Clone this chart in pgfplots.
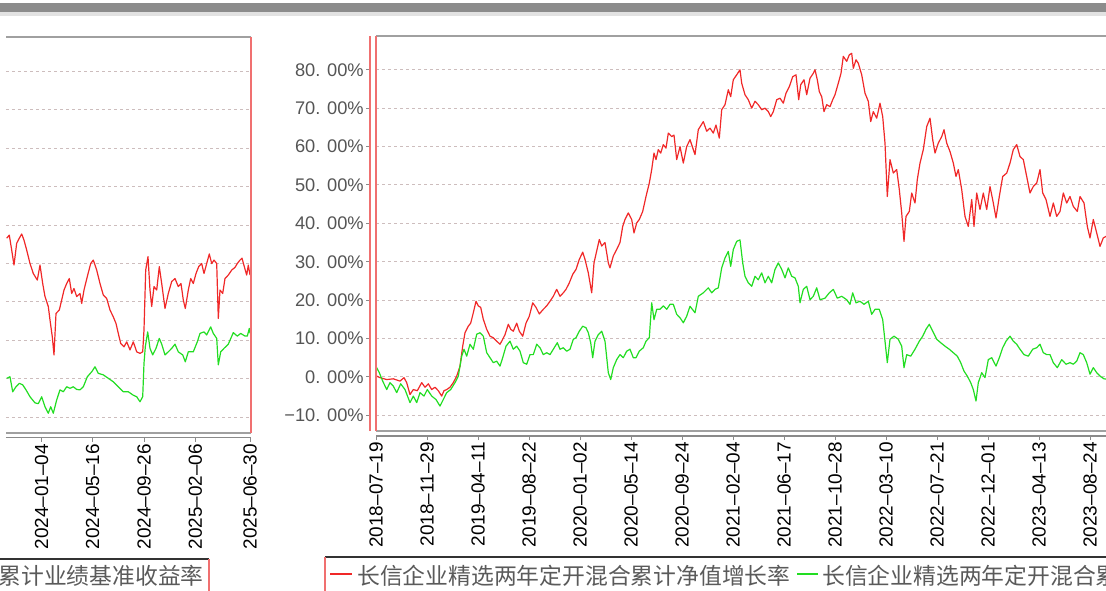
\documentclass[border=0pt]{standalone}
\usepackage{pgfplots}
\pgfplotsset{compat=1.18}
\usepackage{fontspec}
\setmainfont{Liberation Sans}
\newfontfamily\cjk{Noto Sans CJK SC}
\definecolor{lred}{HTML}{F02828}
\definecolor{lgreen}{HTML}{22DD22}
\definecolor{gridc}{HTML}{CDBDBD}
\definecolor{framec}{HTML}{A0A0A0}
\definecolor{axc}{HTML}{8A8A8A}
\definecolor{labc}{HTML}{555555}
\definecolor{legc}{HTML}{5A5A5A}
\definecolor{edgec}{HTML}{F07070}
\definecolor{bardark}{HTML}{8C8C8C}
\definecolor{barlight}{HTML}{E2E2E2}
\definecolor{boxc}{HTML}{323232}

\pgfplotstableread{
x y
6.7 36.6
9.3 37.4
11.7 33.5
14 29.6
16.7 35.3
19.3 36.6
21.7 37.7
24 36.1
26.7 33.5
30 30.0
33.3 27.4
37.3 25.7
40 29.6
42.7 24.8
45 21.4
48.3 18.8
50 15.3
52.3 10.9
54 6.2
56 17.0
59.3 17.9
61.7 20.5
64 23.1
66.7 24.8
69.3 26.1
71.7 22.2
74 23.5
76.7 21.4
80 22.2
81.7 19.6
84 23.1
87.3 26.6
90.7 30.0
93.3 30.9
96.7 28.3
100 24.8
103.3 21.8
106.7 20.9
110 17.9
113.3 16.1
116 14.4
118.3 11.8
120.7 9.2
124 8.3
126.7 9.6
130 7.5
133.3 9.6
136.7 7.0
140 6.6
142.7 7.0
144 12.7
145.7 28.3
148 31.8
150 23.1
151.7 18.8
154 24.0
156.7 23.1
159.3 29.2
161.7 24.8
165 18.3
168.3 22.2
171.7 25.3
175 26.1
178.3 24.0
181 24.8
183.3 20.5
185.3 18.3
188.3 23.1
190.7 26.1
193.3 24.8
196 27.4
198.7 29.2
201.7 30.0
204 27.4
206.7 30.0
209.3 32.5
211.7 30.0
214 30.9
216.7 30.0
218.3 15.7
220 23.1
222.7 22.2
225 26.1
228.3 27.0
231.7 28.3
235 29.0
237.3 30.0
240 30.9
242 31.4
244.3 29.2
246.7 27.0
248.3 29.6
250 27.0
}\leftred

\pgfplotstableread{
x y
6.7 0.1
10 0.5
12.7 -3.4
16 -2.1
19.3 -1.2
22.7 -1.6
26 -2.9
30 -4.7
35 -6.3
38.3 -6.5
41.7 -4.7
45 -7.3
48.3 -9.0
50.7 -7.3
53.3 -9.0
56.7 -5.5
60 -2.9
63.3 -3.4
66.7 -2.1
70 -2.5
73.3 -2.1
76.7 -2.8
80 -2.9
83.3 -2.1
87.3 0.5
91.7 1.8
95 3.1
98.3 1.4
103.3 1.0
108.3 0.1
113.3 -0.8
118.3 -2.1
123.3 -3.4
128.3 -3.4
133.3 -4.3
136.7 -4.7
140 -6.0
142.7 -4.7
144 4.0
145.3 8.3
147.7 12.2
150 7.9
152.7 6.2
156 7.9
159.3 10.5
161.7 9.0
165 6.2
168.3 7.0
171.7 7.9
175 9.0
178.3 7.0
182.7 6.2
185.3 4.4
188.3 7.0
193.3 7.0
197.3 9.6
200 11.8
204 12.2
206.7 11.4
210.7 13.5
213.3 11.8
216.7 10.5
218.3 3.6
220.7 7.0
224 7.9
228.3 9.0
233.3 12.0
237.3 11.1
240.7 11.8
245 11.1
247.3 11.1
249.3 13.1
250 11.8
}\leftgreen

\pgfplotstableread{
x y
376.7 0.2
380 -0.2
386.7 -0.7
393.3 -0.5
400 -1.1
404 -0.2
406.7 -1.5
410 -4.6
413.3 -3.3
417.3 -3.6
421.7 -1.5
425 -2.7
428.3 -1.8
431.7 -3.3
435 -2.7
438.3 -3.6
441.7 -5.0
444 -3.6
446.7 -3.3
450 -2.7
453.3 -1.5
456.7 0.2
460 2.8
462.7 8.0
465 11.5
468.3 13.2
470.7 14.0
473.3 16.7
476 19.7
478.3 18.5
480.7 18.1
483.3 15.0
486.7 12.4
490 10.6
493.3 10.2
496.7 9.3
500 8.5
501.7 9.3
505 11.0
508.3 13.7
510.7 12.4
513.3 11.9
516.7 14.0
519.3 11.9
522.7 10.6
526 14.0
529.3 15.8
532.7 19.3
536 18.1
539.3 16.4
543.3 17.6
546.7 18.5
550 19.7
553.3 21.0
556.7 22.8
560 21.0
563.3 21.9
566 22.8
569.3 24.5
572.7 26.7
576 28.0
579.3 30.6
582.7 32.5
585 30.6
588.3 27.1
591.7 21.9
594 29.7
596.7 32.8
599.3 35.8
601.7 34.1
605 35.0
608.3 29.7
610 28.4
613.3 31.5
616.7 33.2
620 35.0
622.7 39.2
625 41.0
628.3 42.7
631.7 41.0
634 37.5
636.7 40.1
639.3 41.0
642.7 43.1
646 47.0
649.3 50.5
651.7 54.0
654 58.3
656 56.6
658.3 59.2
660.7 58.3
663.3 60.5
666 59.6
668.3 63.5
671.7 62.6
674 63.0
676.7 56.6
680 60.0
683.3 55.7
686.7 60.0
690 61.8
695 57.9
698.3 64.4
703.3 66.5
706.7 64.0
710 64.8
713.3 63.5
716 65.6
719.3 62.2
721.7 69.6
725 70.9
728.3 74.8
730.7 73.0
733.3 77.4
736.7 78.7
740 80.0
741.7 76.5
745 73.5
748.3 72.2
751.7 70.0
755 71.8
758.3 70.9
761.7 69.6
765 70.0
768.3 69.1
770.7 67.8
773.3 69.1
776.7 72.2
780 72.6
783.3 71.3
786 73.9
789.3 75.6
792.7 78.2
796 78.7
798.7 72.2
800.7 76.1
804 77.4
806.7 73.5
810 77.8
813.3 79.1
815 80.0
817.3 77.4
819.3 74.3
821.7 73.0
824 69.1
826.7 70.9
830 70.4
832.7 72.2
835 73.5
838.3 76.5
841 79.1
843.3 83.5
846.7 82.2
849.3 83.9
851.7 84.3
853.3 80.4
856 82.6
858.3 81.7
861.7 78.7
865 73.9
868.3 71.8
870.7 66.5
873.3 69.1
876.7 67.4
880 71.3
882.7 67.8
885 60.9
887.3 47.0
890 56.6
893.3 53.1
896.7 54.0
899.3 48.8
901.7 42.7
904 35.3
906 41.8
909.3 43.1
911.7 47.9
915 45.3
917.3 51.4
920 55.7
923.3 59.2
926.7 65.2
930 67.4
932.7 61.8
935 58.3
938.3 60.9
941.7 62.6
944 64.4
946.7 60.9
950 58.7
953.3 55.7
956 52.2
958.3 54.0
961.7 48.8
965 41.8
968.3 39.2
971.7 46.2
974 39.2
976.7 47.9
980 43.6
983.3 47.9
986.7 43.6
990 49.6
993.3 45.3
996 41.4
999.3 47.0
1002.7 52.2
1006.7 53.1
1010 55.7
1013.3 59.2
1016.7 60.5
1020 57.4
1023.3 56.6
1026.7 52.2
1030 47.9
1033.3 49.6
1036.7 50.5
1040 54.0
1042.7 47.9
1046 46.2
1050 41.8
1053.3 45.3
1056.7 41.8
1060 43.1
1063.3 47.9
1066.7 45.3
1070 47.0
1073.3 44.4
1077.3 43.1
1080 47.0
1084 45.3
1087.3 39.2
1090 36.2
1093.3 41.0
1096.7 37.5
1100 34.0
1103.3 36.2
1106 36.6
1112 36.0
}\rightred

\pgfplotstableread{
x y
376.7 2.4
379.3 1.1
382.7 -1.1
386.7 -3.3
390 -1.5
393.3 -2.4
396.7 -4.1
400.7 -1.8
405 -3.3
410 -6.7
413.3 -5.0
416.7 -6.7
420 -4.1
424 -5.0
427.3 -3.3
431.7 -5.0
436 -5.9
440 -7.6
443.3 -5.9
446.7 -4.1
450.7 -3.3
455 -1.5
458.3 0.2
461.7 5.4
464 7.2
466.7 5.4
470 8.5
473.3 7.2
476.7 11.1
480 11.5
483.3 10.6
486.7 6.3
490 5.0
493.3 3.7
496.7 4.1
500 2.8
502.7 5.0
506 8.0
510 9.3
513.3 7.2
516.7 8.0
520 6.7
523.3 3.7
526.7 3.3
530 5.8
533.3 5.8
536.7 8.5
540 7.6
543.3 5.8
546.7 6.3
550 5.8
553.3 7.2
557.3 8.9
560 7.2
563.3 7.6
566.7 6.7
570 7.2
573.3 9.8
576 10.2
579.3 11.9
582.7 13.2
586 12.8
588.3 11.5
590.7 8.9
592.7 5.0
595 9.3
598.3 11.0
601.7 11.9
605 9.3
608.3 1.1
610.7 -0.7
613.3 2.4
616.7 4.5
620 5.8
623.3 5.0
626.7 6.7
630 7.2
633.3 5.0
636 5.0
639.3 6.7
643.3 7.6
646 9.3
649.3 10.2
651.7 19.3
654 14.9
656.7 17.6
660 17.6
663.3 18.5
666.7 17.6
670 18.9
673.3 18.9
676.7 16.3
680 15.4
683.3 14.1
686.7 15.8
690 18.4
695 16.7
698.3 21.0
703.3 21.9
708.3 23.2
711.7 21.9
715 22.8
718.3 23.2
721.7 28.4
725 31.0
728.3 32.7
730.7 28.8
733.3 33.2
736.7 35.3
740 35.7
742.7 29.7
745 26.2
748.3 24.5
751.7 23.6
755 26.2
758.3 25.3
761.7 27.1
765 24.5
768.3 26.2
771.7 24.5
775 28.0
778.3 29.7
781.7 28.0
785 25.8
788.3 28.4
791.7 26.2
795 25.8
798.3 23.6
800 19.3
803.3 22.8
806.7 23.6
810 20.1
813.3 21.0
816.7 23.2
820 20.1
825 20.5
829.3 21.9
833.3 22.8
837.3 20.5
841.7 21.0
846.7 20.1
850 18.9
852.7 21.9
856 19.3
860 19.7
864 18.9
868.3 19.7
871.7 16.3
875 17.6
879.3 17.6
882.7 14.9
885 9.3
887.3 3.7
890 9.8
894 10.6
898.3 9.8
901.7 8.0
904 2.4
906.7 5.8
910.7 5.4
915 7.2
919.3 9.3
922.7 10.6
926 12.4
929.3 13.7
932.7 11.9
936.7 9.8
940.7 8.9
945 8.0
949.3 7.2
953.3 6.3
957.3 5.4
960.7 3.7
964 1.5
967.3 0.2
970.7 -1.5
973.3 -3.3
976 -6.3
978.3 -1.5
981.7 1.1
985 -0.2
988.3 4.5
991.7 5.0
996 2.8
999.3 5.0
1002.7 7.6
1006 9.3
1010 10.6
1013.3 9.3
1016.7 8.5
1020 7.2
1024 5.8
1028.3 5.4
1032.7 7.2
1036.7 7.6
1040 8.5
1043.3 6.3
1046.7 5.8
1050 5.8
1053.3 3.7
1057.3 2.4
1061.7 4.5
1066 3.3
1070 3.7
1073.3 3.3
1076.7 4.1
1080 6.3
1083.3 5.8
1086.7 3.7
1090 0.7
1093.3 2.4
1096.7 1.1
1100 0.2
1104 -0.5
1112 -0.8
}\rightgreen

\pgfplotsset{
  panel/.style={
    scale only axis, anchor=north west,
    axis x line*=bottom, axis y line*=left,
    axis x line shift=3.75pt,
    x axis line style={draw=axc, line width=1pt, -},
    tick align=outside,
    major tick length=3pt,
    xtick style={draw=axc, line width=0.75pt},
    ymajorgrids,
    grid style={gridc, line width=0.75pt, dash pattern=on 2.25pt off 2.25pt},
    xticklabel style={rotate=90, anchor=east, font=\fontsize{14.2}{15}\selectfont, text=black, inner sep=1.5pt},
    ytick={-10,0,10,20,30,40,50,60,70,80},
    every axis plot/.append style={line width=0.9pt, line join=round},
  }
}

\begin{document}
\begin{tikzpicture}
\useasboundingbox (0pt,0pt) rectangle (829.5pt,-442.5pt);
\begin{scope}
\clip (0pt,0pt) rectangle (829.5pt,-442.5pt);
% top bar
\fill[bardark] (0pt,-2.25pt) rectangle (829.5pt,-9.2pt);
\fill[barlight] (0pt,-9.2pt) rectangle (829.5pt,-12pt);

% left panel
\begin{axis}[panel, name=L,
  at={(4.5pt,-27.5pt)},
  width=183.75pt, height=297pt,
  xmin=6, xmax=251, ymin=-14.06, ymax=89.1,
  xtick={41.7,92.7,144,195.3,250},
  xticklabels={2024–01–04,2024–05–16,2024–09–26,2025–02–06,2025–06–30},
  y axis line style={draw=none}, ytick style={draw=none}, yticklabels={},
]
\addplot[lred] table[x=x,y=y] {\leftred};
\addplot[lgreen] table[x=x,y=y] {\leftgreen};
\end{axis}
\draw[framec, line width=1.3pt] (L.north west) -- (L.north east);
\draw[framec, line width=1.3pt] (L.south west) -- (L.south east);
\draw[edgec, line width=1pt] (L.north east) -- (L.south east);

% right panel
\begin{axis}[panel, name=R,
  at={(282pt,-27pt)},
  width=555pt, height=296.25pt,
  xmin=376, xmax=1116, ymin=-14.1, ymax=88.8,
  xtick={376,427,478,529,580,631,682,733,784,835,886,937,988,1039,1090},
  xticklabels={2018–07–19,2018–11–29,2019–04–11,2019–08–22,2020–01–02,2020–05–14,2020–09–24,2021–02–04,2021–06–17,2021–10–28,2022–03–10,2022–07–21,2022–12–01,2023–04–13,2023–08–24},
  axis y line shift=4.5pt,
  y axis line style={draw=edgec, line width=1pt, -},
  ytick style={draw=axc, line width=0.75pt},
  yticklabels={−10. 00\%,0. 00\%,10. 00\%,20. 00\%,30. 00\%,40. 00\%,50. 00\%,60. 00\%,70. 00\%,80. 00\%},
  yticklabel style={font=\fontsize{13.7}{15}\selectfont, text=labc, inner sep=1.5pt},
]
\addplot[lred] table[x=x,y=y] {\rightred};
\addplot[lgreen] table[x=x,y=y] {\rightgreen};
\end{axis}
\draw[framec, line width=1.3pt] (R.north west) -- (R.north east);
\draw[framec, line width=1.3pt] (R.south west) -- (R.south east);
\draw[edgec, line width=1pt] (R.north west) -- (R.south west);

% legends
\draw[boxc, line width=1.2pt] (-40pt,-419.25pt) -- (156.75pt,-419.25pt);
\draw[edgec, line width=1pt] (156.75pt,-419.25pt) -- (156.75pt,-470pt);
\node[anchor=east, inner sep=0pt, text=legc, font=\cjk\fontsize{17.1}{18}\selectfont] at (153pt,-432pt) {长信企业精选两年定开混合累计业绩基准收益率};

\draw[boxc, line width=1.2pt] (243.75pt,-417.75pt) -- (900pt,-417.75pt);
\draw[edgec, line width=1pt] (243.75pt,-417.75pt) -- (243.75pt,-470pt);
\draw[lred, line width=1pt] (247.5pt,-430.5pt) -- (264pt,-430.5pt);
\node[anchor=west, inner sep=0pt, text=legc, font=\cjk\fontsize{17.1}{18}\selectfont] at (267.75pt,-432pt) {长信企业精选两年定开混合累计净值增长率};
\draw[lgreen, line width=1pt] (597.75pt,-430.5pt) -- (613.5pt,-430.5pt);
\node[anchor=west, inner sep=0pt, text=legc, font=\cjk\fontsize{17.1}{18}\selectfont] at (616.5pt,-432pt) {长信企业精选两年定开混合累计业绩基准收益率};
\end{scope}
\end{tikzpicture}
\end{document}
